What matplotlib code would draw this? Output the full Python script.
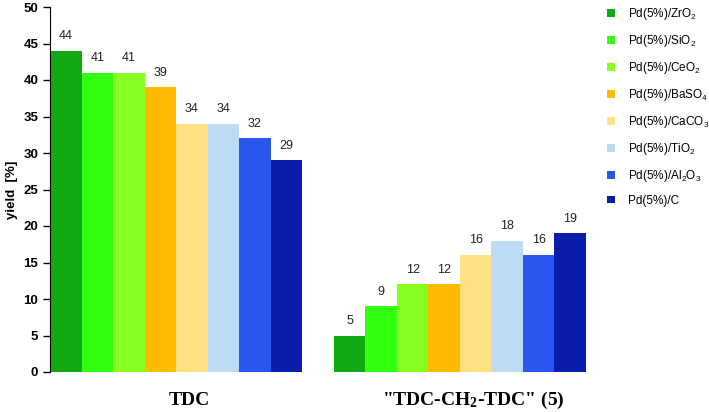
import numpy as np
import matplotlib.pyplot as plt
from matplotlib.patches import Patch

plt.rcParams['font.family'] = 'Liberation Sans'
plt.rcParams['mathtext.default'] = 'regular'

# data
groups = ['TDC', '"TDC-CH$_2$-TDC" (5)']
catalysts = ['Pd(5%)/ZrO$_2$', 'Pd(5%)/SiO$_2$', 'Pd(5%)/CeO$_2$', 'Pd(5%)/BaSO$_4$',
             'Pd(5%)/CaCO$_3$', 'Pd(5%)/TiO$_2$', 'Pd(5%)/Al$_2$O$_3$', 'Pd(5%)/C']
tdc = [44, 41, 41, 39, 34, 34, 32, 29]
tdc_ch2 = [5, 9, 12, 12, 16, 18, 16, 19]
colors = ['#12a912', '#33ff11', '#88ff22', '#ffbb00',
          '#ffe284', '#bcdcf6', '#2a55ee', '#0a1caa']

fig = plt.figure(figsize=(7.09, 4.12), dpi=100)
ax = fig.add_axes([50/709, 40/412, 536/709, 365/412])

n = len(catalysts)
for g, vals in enumerate([tdc, tdc_ch2]):
    for i, v in enumerate(vals):
        x = g * (n + 1) + i
        ax.bar(x, v, width=1.0, color=colors[i], linewidth=0)
        ax.text(x, v + 1.2, str(v), ha='center', va='bottom', fontsize=9, color='#222222')

ax.set_xlim(-0.5, 2 * n + 0.5)
ax.set_ylim(0, 50)
ax.set_yticks(np.arange(0, 51, 5))
ax.tick_params(axis='y', length=5, width=1, labelsize=9.5)
for lab in ax.get_yticklabels():
    lab.set_fontweight('bold')
ax.set_xticks([])
for s in ['top', 'right', 'bottom']:
    ax.spines[s].set_visible(False)
ax.spines['left'].set_color('black')
ax.set_ylabel('yield  [%]', fontsize=9.5, fontweight='bold', labelpad=4)

for g, name in enumerate(groups):
    ax.text(g * (n + 1) + (n - 1) / 2 + 0.42, -0.077, name, transform=ax.get_xaxis_transform(),
            ha='center', va='center', fontsize=14, fontweight='bold', family='Liberation Serif')

handles = [Patch(facecolor=c, label=l) for c, l in zip(colors, catalysts)]
fig.legend(handles=handles, loc='upper left', bbox_to_anchor=(600/709, 1.003),
           frameon=False, fontsize=8.5, handlelength=0.65, handleheight=0.65,
           labelspacing=0.93, handletextpad=1.1, borderaxespad=0.2)

fig.savefig('out.png', dpi=100)
